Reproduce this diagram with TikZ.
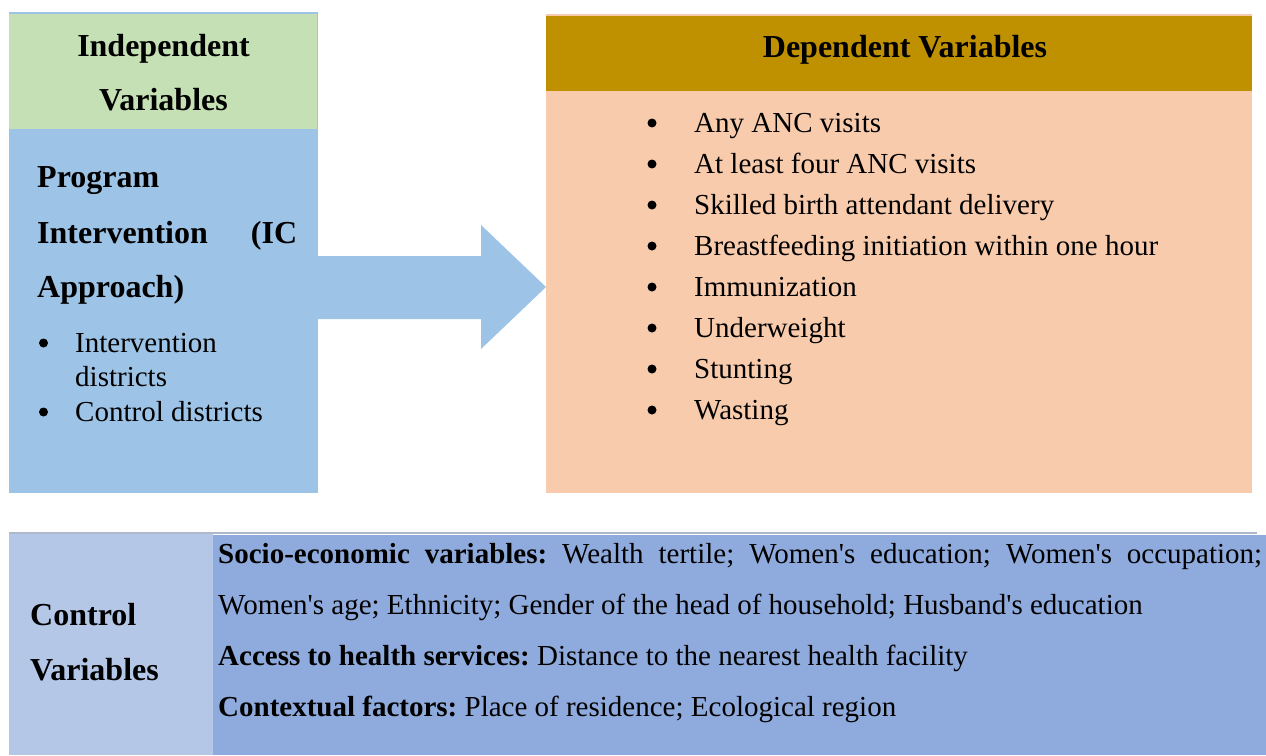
\documentclass[tikz,border=0pt]{standalone}
\usepackage{fontspec}
\setmainfont{Liberation Serif}
\definecolor{indgreen}{HTML}{C5E0B4}
\definecolor{indblue}{HTML}{9DC3E6}
\definecolor{depgold}{HTML}{BF9000}
\definecolor{deppeach}{HTML}{F8CBAD}
\definecolor{ctrllight}{HTML}{B4C7E7}
\definecolor{ctrldark}{HTML}{8FAADC}
\definecolor{ctrlline}{HTML}{ADB9CA}
\newcommand\bodyfnt{\fontsize{29}{34}\selectfont}
\newcommand\headfnt{\fontsize{32}{38}\selectfont\bfseries}
\frenchspacing
\tikzset{
  panel/.style={inner sep=0pt, outer sep=0pt, anchor=north west},
  body/.style={inner sep=0pt, font=\bodyfnt, anchor=base west},
  head/.style={inner sep=0pt, font=\headfnt, anchor=base west},
  headc/.style={inner sep=0pt, font=\headfnt, anchor=base},
  bul/.style={circle, fill=black, inner sep=0pt, minimum size=9pt},
}
\begin{document}
\begin{tikzpicture}[x=1pt,y=-1pt]
\frenchspacing
\useasboundingbox (0,0) rectangle (1266,755);
\fill[white] (0,0) rectangle (1266,755);

% Independent variables box
\node[panel, fill=indblue, minimum width=309pt, minimum height=481pt] (ind) at (9,12) {};
\node[panel, fill=indgreen, minimum width=308pt, minimum height=115pt] (indhead) at (9,14) {};
\node[headc] (ih1) at (163.5,56) {Independent};
\node[headc] (ih2) at (163.5,110) {Variables};
\node[head] (p1) at (37,187) {Program};
\node[head] (p2) at (37,243) {\makebox[260pt][s]{Intervention (IC}};
\node[head] (p3) at (37,297) {Approach)};
\node[bul] (ib1) at (43.5,343) {};
\node[body] (it1) at (75,352) {Intervention};
\node[body] (it2) at (75,386) {districts};
\node[bul] (ib2) at (43.5,412) {};
\node[body] (it3) at (75,421) {Control districts};

% Dependent variables box
\node[panel, fill=deppeach, minimum width=706pt, minimum height=479pt] (dep) at (546,14) {};
\node[panel, fill=depgold, minimum width=706pt, minimum height=75pt] (dephead) at (546,16) {};
\node[headc] (dh) at (905,57) {Dependent Variables};
\foreach \t [count=\i from 0] in {Any ANC visits, At least four ANC visits, Skilled birth attendant delivery, Breastfeeding initiation within one hour, Immunization, Underweight, Stunting, Wasting}{
  \node[bul] (db\i) at (652,123+41*\i) {};
  \node[body] (dt\i) at (694,132+41*\i) {\t};
}

% Block arrow from independent to dependent
\coordinate (a0) at (ind.east |- 0,256);
\coordinate (a1) at (ind.east |- 0,319);
\fill[indblue] (a0) -- (481,256) -- (481,225) -- (dep.west |- 0,287) -- (481,349) -- (481,319) -- (a1) -- cycle;

% Control variables
\fill[ctrldark] (213,535) rectangle (1266,755);
\node[panel, fill=ctrllight, minimum width=204pt, minimum height=222pt] (ctrl) at (9,533) {};
\draw[ctrlline, line width=2pt] (9,533) -- (1257,533);
\node[head] (c1) at (30,625) {Control};
\node[head] (c2) at (30,680) {Variables};
\node[body] (l1) at (218,563) {\makebox[1044pt][s]{\textbf{Socio-economic variables:} Wealth tertile; Women\textquotesingle s education; Women\textquotesingle s occupation;}};
\node[body] (l2) at (218,614) {Women\textquotesingle s age; Ethnicity; Gender of the head of household; Husband\textquotesingle s education};
\node[body] (l3) at (218,665) {\textbf{Access to health services:} Distance to the nearest health facility};
\node[body] (l4) at (218,716) {\textbf{Contextual factors:} Place of residence; Ecological region};
\end{tikzpicture}
\end{document}
